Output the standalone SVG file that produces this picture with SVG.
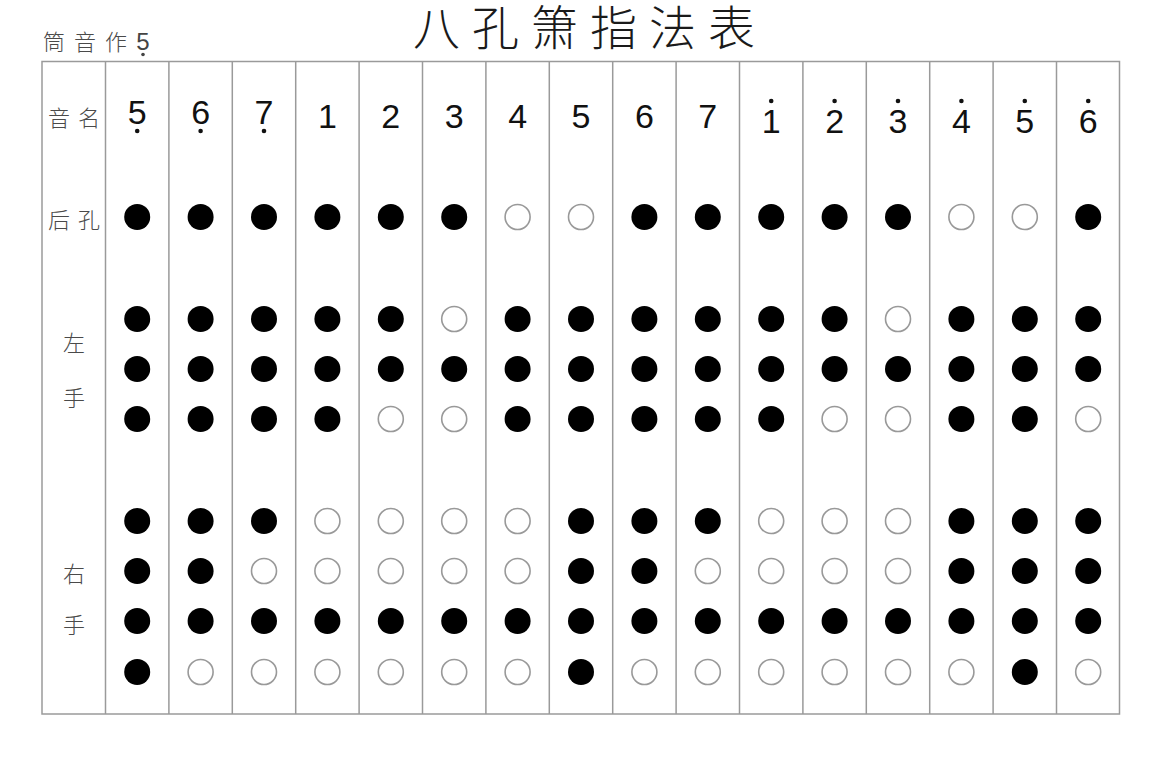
<svg xmlns="http://www.w3.org/2000/svg" width="1170" height="757" viewBox="0 0 1170 757">
<defs>
<style>
.grid{stroke:#9a9a9a;stroke-width:1.5;fill:none}
.f{fill:#000}
.o{fill:#fff;stroke:#999;stroke-width:1.6}
.lbl{font-family:"Noto Sans CJK SC","Noto Sans",sans-serif;font-size:22px;font-weight:300;fill:#4a4a4a}
.num{font-family:"Liberation Sans",Arial,sans-serif;font-size:34px;fill:#111;text-anchor:middle}
.dot{fill:#111}
</style>
<circle id="F" r="13" class="f"/>
<circle id="O" r="12.5" class="o"/>
</defs>
<rect width="1170" height="757" fill="#fff"/>
<g id="title">
<text x="413" y="45" font-family="'Noto Sans CJK SC',sans-serif" font-weight="300" font-size="47" letter-spacing="12" fill="#1a1a1a">八孔箫指法表</text>
</g>
<g id="key">
<text class="lbl" x="43" y="50" letter-spacing="9">筒音作</text>
<text x="143" y="50" font-family="'Liberation Sans',Arial,sans-serif" font-size="24" fill="#444" text-anchor="middle">5</text>
<circle cx="143" cy="54.5" r="1.8" fill="#444"/>
</g>
<g id="grid" class="grid">
<rect x="42" y="61.5" width="1077.5" height="652.5"/>
<path d="M105.5 61.5V714M168.9 61.5V714M232.3 61.5V714M295.7 61.5V714M359.1 61.5V714M422.5 61.5V714M485.9 61.5V714M549.3 61.5V714M612.7 61.5V714M676.1 61.5V714M739.5 61.5V714M802.9 61.5V714M866.3 61.5V714M929.7 61.5V714M993.1 61.5V714M1056.5 61.5V714"/>
</g>
<g id="row-labels">
<text class="lbl" x="48" y="126" letter-spacing="8">音名</text>
<text class="lbl" x="48" y="228" letter-spacing="8">后孔</text>
<text class="lbl" x="74" y="351" text-anchor="middle">左</text>
<text class="lbl" x="74" y="406" text-anchor="middle">手</text>
<text class="lbl" x="74" y="582" text-anchor="middle">右</text>
<text class="lbl" x="74" y="633" text-anchor="middle">手</text>
</g>
<g id="notes">
<text class="num" x="137.2" y="124">5</text><circle class="dot" cx="137.2" cy="131" r="2.3"/>
<text class="num" x="200.6" y="124">6</text><circle class="dot" cx="200.6" cy="131" r="2.3"/>
<text class="num" x="264" y="124">7</text><circle class="dot" cx="264" cy="131" r="2.3"/>
<text class="num" x="327.4" y="128">1</text>
<text class="num" x="390.8" y="128">2</text>
<text class="num" x="454.2" y="128">3</text>
<text class="num" x="517.6" y="128">4</text>
<text class="num" x="581" y="128">5</text>
<text class="num" x="644.4" y="128">6</text>
<text class="num" x="707.8" y="128">7</text>
<text class="num" x="771.2" y="133">1</text><circle class="dot" cx="771.2" cy="101" r="2.3"/>
<text class="num" x="834.6" y="133">2</text><circle class="dot" cx="834.6" cy="101" r="2.3"/>
<text class="num" x="898" y="133">3</text><circle class="dot" cx="898" cy="101" r="2.3"/>
<text class="num" x="961.4" y="133">4</text><circle class="dot" cx="961.4" cy="101" r="2.3"/>
<text class="num" x="1024.8" y="133">5</text><circle class="dot" cx="1024.8" cy="101" r="2.3"/>
<text class="num" x="1088.2" y="133">6</text><circle class="dot" cx="1088.2" cy="101" r="2.3"/>
</g>
<g id="holes">
<use href="#F" x="137.2" y="217"/><use href="#F" x="200.6" y="217"/><use href="#F" x="264" y="217"/><use href="#F" x="327.4" y="217"/><use href="#F" x="390.8" y="217"/><use href="#F" x="454.2" y="217"/><use href="#O" x="517.6" y="217"/><use href="#O" x="581" y="217"/><use href="#F" x="644.4" y="217"/><use href="#F" x="707.8" y="217"/><use href="#F" x="771.2" y="217"/><use href="#F" x="834.6" y="217"/><use href="#F" x="898" y="217"/><use href="#O" x="961.4" y="217"/><use href="#O" x="1024.8" y="217"/><use href="#F" x="1088.2" y="217"/>
<use href="#F" x="137.2" y="319"/><use href="#F" x="200.6" y="319"/><use href="#F" x="264" y="319"/><use href="#F" x="327.4" y="319"/><use href="#F" x="390.8" y="319"/><use href="#O" x="454.2" y="319"/><use href="#F" x="517.6" y="319"/><use href="#F" x="581" y="319"/><use href="#F" x="644.4" y="319"/><use href="#F" x="707.8" y="319"/><use href="#F" x="771.2" y="319"/><use href="#F" x="834.6" y="319"/><use href="#O" x="898" y="319"/><use href="#F" x="961.4" y="319"/><use href="#F" x="1024.8" y="319"/><use href="#F" x="1088.2" y="319"/>
<use href="#F" x="137.2" y="369"/><use href="#F" x="200.6" y="369"/><use href="#F" x="264" y="369"/><use href="#F" x="327.4" y="369"/><use href="#F" x="390.8" y="369"/><use href="#F" x="454.2" y="369"/><use href="#F" x="517.6" y="369"/><use href="#F" x="581" y="369"/><use href="#F" x="644.4" y="369"/><use href="#F" x="707.8" y="369"/><use href="#F" x="771.2" y="369"/><use href="#F" x="834.6" y="369"/><use href="#F" x="898" y="369"/><use href="#F" x="961.4" y="369"/><use href="#F" x="1024.8" y="369"/><use href="#F" x="1088.2" y="369"/>
<use href="#F" x="137.2" y="419"/><use href="#F" x="200.6" y="419"/><use href="#F" x="264" y="419"/><use href="#F" x="327.4" y="419"/><use href="#O" x="390.8" y="419"/><use href="#O" x="454.2" y="419"/><use href="#F" x="517.6" y="419"/><use href="#F" x="581" y="419"/><use href="#F" x="644.4" y="419"/><use href="#F" x="707.8" y="419"/><use href="#F" x="771.2" y="419"/><use href="#O" x="834.6" y="419"/><use href="#O" x="898" y="419"/><use href="#F" x="961.4" y="419"/><use href="#F" x="1024.8" y="419"/><use href="#O" x="1088.2" y="419"/>
<use href="#F" x="137.2" y="521"/><use href="#F" x="200.6" y="521"/><use href="#F" x="264" y="521"/><use href="#O" x="327.4" y="521"/><use href="#O" x="390.8" y="521"/><use href="#O" x="454.2" y="521"/><use href="#O" x="517.6" y="521"/><use href="#F" x="581" y="521"/><use href="#F" x="644.4" y="521"/><use href="#F" x="707.8" y="521"/><use href="#O" x="771.2" y="521"/><use href="#O" x="834.6" y="521"/><use href="#O" x="898" y="521"/><use href="#F" x="961.4" y="521"/><use href="#F" x="1024.8" y="521"/><use href="#F" x="1088.2" y="521"/>
<use href="#F" x="137.2" y="571"/><use href="#F" x="200.6" y="571"/><use href="#O" x="264" y="571"/><use href="#O" x="327.4" y="571"/><use href="#O" x="390.8" y="571"/><use href="#O" x="454.2" y="571"/><use href="#O" x="517.6" y="571"/><use href="#F" x="581" y="571"/><use href="#F" x="644.4" y="571"/><use href="#O" x="707.8" y="571"/><use href="#O" x="771.2" y="571"/><use href="#O" x="834.6" y="571"/><use href="#O" x="898" y="571"/><use href="#F" x="961.4" y="571"/><use href="#F" x="1024.8" y="571"/><use href="#F" x="1088.2" y="571"/>
<use href="#F" x="137.2" y="621"/><use href="#F" x="200.6" y="621"/><use href="#F" x="264" y="621"/><use href="#F" x="327.4" y="621"/><use href="#F" x="390.8" y="621"/><use href="#F" x="454.2" y="621"/><use href="#F" x="517.6" y="621"/><use href="#F" x="581" y="621"/><use href="#F" x="644.4" y="621"/><use href="#F" x="707.8" y="621"/><use href="#F" x="771.2" y="621"/><use href="#F" x="834.6" y="621"/><use href="#F" x="898" y="621"/><use href="#F" x="961.4" y="621"/><use href="#F" x="1024.8" y="621"/><use href="#F" x="1088.2" y="621"/>
<use href="#F" x="137.2" y="672"/><use href="#O" x="200.6" y="672"/><use href="#O" x="264" y="672"/><use href="#O" x="327.4" y="672"/><use href="#O" x="390.8" y="672"/><use href="#O" x="454.2" y="672"/><use href="#O" x="517.6" y="672"/><use href="#F" x="581" y="672"/><use href="#O" x="644.4" y="672"/><use href="#O" x="707.8" y="672"/><use href="#O" x="771.2" y="672"/><use href="#O" x="834.6" y="672"/><use href="#O" x="898" y="672"/><use href="#O" x="961.4" y="672"/><use href="#F" x="1024.8" y="672"/><use href="#O" x="1088.2" y="672"/>
</g>
</svg>
